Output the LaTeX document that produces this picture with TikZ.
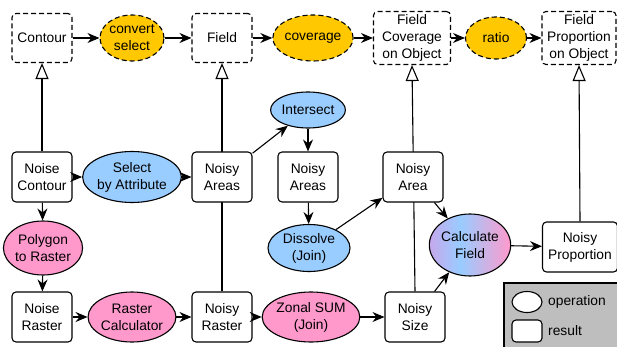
\documentclass[tikz,border=0pt]{standalone}
\usepackage{fontspec}
\setmainfont{Liberation Sans}
\usetikzlibrary{shapes.geometric,arrows.meta,backgrounds}
\definecolor{opyellow}{HTML}{FFC800}
\definecolor{opblue}{HTML}{99CCFF}
\definecolor{oppink}{HTML}{FF99CC}
\definecolor{oplav}{HTML}{C6A8EC}
\definecolor{leggray}{HTML}{BEBEBE}
\pgfdeclarehorizontalshading{calcshade}{100bp}{color(0bp)=(oplav); color(25bp)=(oplav); color(44bp)=(opblue); color(75bp)=(oppink); color(100bp)=(oppink)}
\tikzset{
  base/.style={draw, line width=1.1pt, align=center, inner sep=0pt,
    font=\fontsize{13.8}{17}\selectfont},
  res/.style={base, rectangle, rounded corners=4pt, fill=white, minimum width=60pt, minimum height=50pt},
  absres/.style={res, dash pattern=on 5pt off 3pt},
  op/.style={base, ellipse},
  yop/.style={op, fill=opyellow, dash pattern=on 5pt off 3pt},
  bop/.style={op, fill=opblue},
  pop/.style={op, fill=oppink},
  arr/.style={line width=1.1pt, -{Stealth[length=12pt,width=10pt,inset=4pt]}},
  inh/.style={line width=1.1pt, -{Triangle[open,length=16pt,width=13pt]}},
  lbl/.style={anchor=west, inner sep=0pt, font=\fontsize{13.8}{17}\selectfont}
}
\begin{document}
\begin{tikzpicture}[x=1pt,y=-1pt]
\useasboundingbox (0,0) rectangle (617,347);
% top row
\node[absres, minimum height=49pt] (contour) at (42,38) {Contour};
\node[yop, minimum width=64pt, minimum height=46pt] (convsel) at (132,38) {convert\\select};
\node[absres, minimum height=49pt] (field) at (222,38) {Field};
\node[yop, minimum width=69pt, minimum height=46pt] (coverage) at (313,38) {coverage};
\node[absres, minimum width=77pt, minimum height=53pt] (fcov) at (412,38) {Field\\Coverage\\on Object};
\node[yop, minimum width=61pt, minimum height=42pt] (ratio) at (496,38) {ratio};
\node[absres, minimum width=74pt, minimum height=53pt] (fprop) at (579,38) {Field\\Proportion\\on Object};
% middle row
\node[res] (ncont) at (42,177) {Noise\\Contour};
\node[bop, minimum width=83pt, minimum height=51pt] (sba) at (132,177) {Select\\by Attribute};
\node[res] (nareas) at (222,177) {Noisy\\Areas};
\node[bop, minimum width=64pt, minimum height=36pt] (inter) at (308,110) {Intersect};
\node[res] (nareasb) at (308,177) {Noisy\\Areas};
\node[res] (narea) at (413,177) {Noisy\\Area};
\node[bop, minimum width=82pt, minimum height=47pt] (diss) at (309,248) {Dissolve\\(Join)};
\node[op, shading=calcshade, minimum width=74pt, minimum height=62pt] (calc) at (470,245) {Calculate\\Field};
\node[res, minimum width=75pt] (nprop) at (580,247) {Noisy\\Proportion};
\node[pop, minimum width=77pt, minimum height=54pt] (p2r) at (43,248) {Polygon\\to Raster};
% bottom row
\node[res] (nraster) at (42,317) {Noise\\Raster};
\node[pop, minimum width=75pt, minimum height=50pt] (rcalc) at (132,317) {Raster\\Calculator};
\node[res] (nrasterb) at (222,317) {Noisy\\Raster};
\node[pop, minimum width=82pt, minimum height=50pt] (zonal) at (311,317) {Zonal SUM\\(Join)};
\node[res] (nsize) at (415,317) {Noisy\\Size};
% legend
\begin{scope}[on background layer]
\fill[leggray] (504,283) rectangle (617,347);
\draw[line width=1.1pt] (504,347) -- (504,283) -- (617,283);
\draw[inh] (ncont.north) -- (contour.south);
\draw[inh] (nrasterb.north) -- (field.south);
\draw[inh] (nsize.north) -- (fcov.south);
\draw[inh] (nprop.north) -- (fprop.south);
\end{scope}
\node[base, ellipse, fill=white, minimum width=30pt, minimum height=21pt] (legop) at (527,302) {};
\node[base, rectangle, rounded corners=4pt, fill=white, minimum width=30pt, minimum height=22pt] (legres) at (527,331) {};
\node[lbl] (legopt) at (548,302) {operation};
\node[lbl] (legrest) at (548,331) {result};
% arrows top
\draw[arr] (contour) -- (convsel);
\draw[arr] (convsel) -- (field);
\draw[arr] (field) -- (coverage);
\draw[arr] (coverage) -- (fcov);
\draw[arr] (fcov) -- (ratio);
\draw[arr] (ratio) -- (fprop);
% arrows middle
\draw[arr] (ncont) -- (sba);
\draw[arr] (sba) -- (nareas);
\draw[arr] (nareas) -- (inter);
\draw[arr] (inter) -- (nareasb);
\draw[arr] (nareasb) -- (diss);
\draw[arr] (diss) -- (narea);
\draw[arr] (narea) -- (calc);
\draw[arr] (nsize) -- (calc);
\draw[arr] (calc) -- (nprop);
\draw[arr] (ncont) -- (p2r);
\draw[arr] (p2r) -- (nraster);
% arrows bottom
\draw[arr] (nraster) -- (rcalc);
\draw[arr] (rcalc) -- (nrasterb);
\draw[arr] (nrasterb) -- (zonal);
\draw[arr] (zonal) -- (nsize);
\end{tikzpicture}
\end{document}
